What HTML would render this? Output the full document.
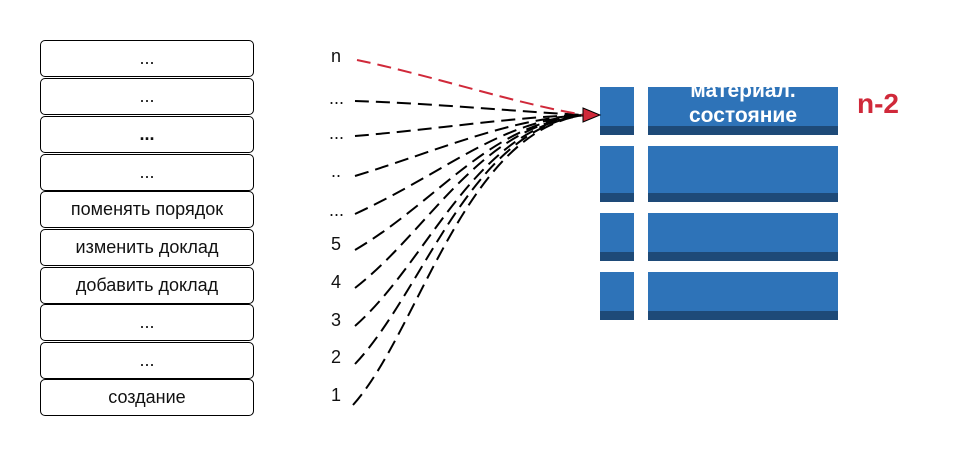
<!DOCTYPE html>
<html><head><meta charset="utf-8"><style>
body{margin:0;background:#fff;}
.w{position:relative;width:980px;height:457px;overflow:hidden;font-family:"Liberation Sans",sans-serif;}
.b{position:absolute;left:40px;width:212px;height:35px;border:1.5px solid #000;border-radius:5px;background:#fff;text-align:center;line-height:35px;font-size:18px;color:#111;}
.l{position:absolute;font-size:18px;color:#111;}
.blk{position:absolute;background:#2e73b8;}
.blk i{position:absolute;left:0;right:0;bottom:0;height:9px;background:#1e4a78;}
</style></head><body><div class="w">
<div class="b" style="top:40px">...</div>
<div class="b" style="top:78px">...</div>
<div class="b" style="top:116px;font-weight:bold">...</div>
<div class="b" style="top:154px">...</div>
<div class="b" style="top:191px">поменять порядок</div>
<div class="b" style="top:229px">изменить доклад</div>
<div class="b" style="top:267px">добавить доклад</div>
<div class="b" style="top:304px">...</div>
<div class="b" style="top:342px">...</div>
<div class="b" style="top:379px">создание</div>

<div class="l" style="left:331px;top:46px">n</div>
<div class="l" style="left:329px;top:88px">...</div>
<div class="l" style="left:329px;top:123px">...</div>
<div class="l" style="left:331px;top:161px">..</div>
<div class="l" style="left:329px;top:200px">...</div>
<div class="l" style="left:331px;top:234px">5</div>
<div class="l" style="left:331px;top:272px">4</div>
<div class="l" style="left:331px;top:310px">3</div>
<div class="l" style="left:331px;top:347px">2</div>
<div class="l" style="left:331px;top:385px">1</div>

<div class="blk" style="left:600px;top:87px;width:34px;height:48px"><i></i></div>
<div class="blk" style="left:648px;top:87px;width:190px;height:48px;overflow:hidden"><i></i>
<div style="position:absolute;left:0;right:0;top:-9px;text-align:center;color:#fff;font-weight:bold;font-size:21px;line-height:25px">материал.<br>состояние</div></div>
<div class="blk" style="left:600px;top:146px;width:34px;height:56px"><i></i></div>
<div class="blk" style="left:648px;top:146px;width:190px;height:56px"><i></i></div>
<div class="blk" style="left:600px;top:213px;width:34px;height:48px"><i></i></div>
<div class="blk" style="left:648px;top:213px;width:190px;height:48px"><i></i></div>
<div class="blk" style="left:600px;top:272px;width:34px;height:48px"><i></i></div>
<div class="blk" style="left:648px;top:272px;width:190px;height:48px"><i></i></div>
<div style="position:absolute;left:857px;top:88px;color:#d0293a;font-weight:bold;font-size:28px">n-2</div>

<svg width="980" height="457" style="position:absolute;left:0;top:0">
<g fill="none" stroke="#000" stroke-width="2" stroke-dasharray="14,7">
<path d="M355,101 C430,103 520,112 585,115"/>
<path d="M355,136 C430,130 520,116 585,115"/>
<path d="M355,176 C440,150 510,118 585,115"/>
<path d="M355,214 C450,170 500,120 585,115"/>
<path d="M355,250 C440,200 490,122 585,115"/>
<path d="M355,288 C430,230 480,124 585,115"/>
<path d="M355,326 C430,260 475,126 585,115"/>
<path d="M355,364 C425,290 470,128 585,115"/>
<path d="M353,405 C420,330 465,130 585,115"/>
</g>
<path d="M357,60 C430,75 520,105 585,115" fill="none" stroke="#d0293a" stroke-width="2" stroke-dasharray="14,7"/>
<polygon points="583,108 600,115 583,122" fill="#d0293a" stroke="#000" stroke-width="1"/>
</svg>
</div></body></html>
